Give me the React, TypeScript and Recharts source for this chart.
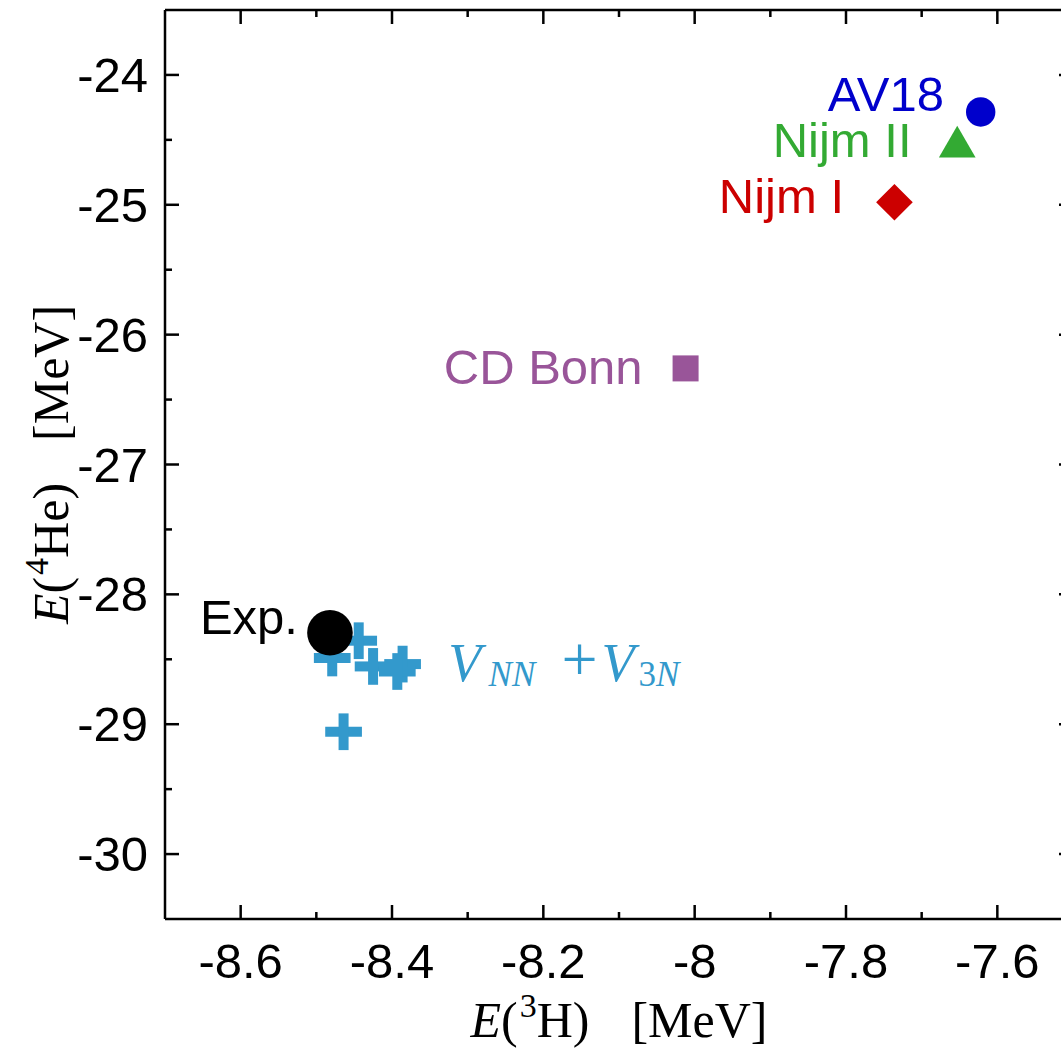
import React from 'react';
import { ScatterChart, Scatter, XAxis, YAxis, ReferenceLine } from 'recharts';

// ---- data ----
const modelNames = ['AV18', 'Nijm II', 'Nijm I', 'CD Bonn'];
const modelTriton = [-7.622, -7.653, -7.736, -8.012];
const modelAlpha = [-24.285, -24.555, -24.98, -26.26];
const expTriton = [-8.482];
const expAlpha = [-28.296];
const threeNTriton = [-8.444, -8.479, -8.425, -8.386, -8.393, -8.464];
const threeNAlpha = [-28.357, -28.49, -28.555, -28.537, -28.594, -29.058];
const xTicks = [-8.6, -8.5, -8.4, -8.3, -8.2, -8.1, -8, -7.9, -7.8, -7.7, -7.6];
const yTicks = [-30, -29.5, -29, -28.5, -28, -27.5, -27, -26.5, -26, -25.5, -25, -24.5, -24];
const xDomain = [-8.7, -7.5];
const yDomain = [-30.5, -23.5];

// ---- layout ----
const CHART_W = 1100;
const CHART_H = 1049;
const MARGIN = { top: 10, right: 27, bottom: 0, left: 0 };
const YAXIS_W = 165;
const XAXIS_H = 130;
const PLOT_W = CHART_W - MARGIN.right - MARGIN.left - YAXIS_W;
const PLOT_H = CHART_H - MARGIN.top - MARGIN.bottom - XAXIS_H;

const SANS = 'Liberation Sans, Arial, Helvetica, sans-serif';
const SERIF = 'Liberation Serif, Times New Roman, serif';
const LW = 2.5;

const colors: Record<string, string> = {
  AV18: '#0000CC',
  'Nijm II': '#33AA33',
  'Nijm I': '#CC0000',
  'CD Bonn': '#995599',
};
const CROSS_COLOR = '#3399CC';

const labelOffsets: Record<string, [number, number]> = {
  AV18: [-36.7, -1.3],
  'Nijm II': [-45.7, 9.7],
  'Nijm I': [-50.4, 10.7],
  'CD Bonn': [-43, 15.5],
};

const modelData = modelNames.map((n, i) => ({ x: modelTriton[i], y: modelAlpha[i], name: n }));
const expData = expTriton.map((x, i) => ({ x, y: expAlpha[i] }));
const threeNData = threeNTriton.map((x, i) => ({ x, y: threeNAlpha[i] }));

const XTick = (props: any) => {
  const { x, y, payload } = props;
  const v = payload.value;
  const major = Math.abs(Math.round(v * 10)) % 2 === 0;
  const len = major ? 14 : 7;
  return (
    <g>
      <line x1={x} x2={x} y1={y} y2={y - len} stroke="#000" strokeWidth={LW} />
      <line x1={x} x2={x} y1={y - PLOT_H} y2={y - PLOT_H + len} stroke="#000" strokeWidth={LW} />
      {major && (
        <text x={x} y={y + 59} textAnchor="middle" fontFamily={SANS} fontSize={49} fill="#000">
          {String(v)}
        </text>
      )}
    </g>
  );
};

const YTick = (props: any) => {
  const { x, y, payload } = props;
  const v = payload.value;
  const major = Number.isInteger(v);
  const len = major ? 14 : 7;
  return (
    <g>
      <line x1={x} x2={x + len} y1={y} y2={y} stroke="#000" strokeWidth={LW} />
      <line x1={x + PLOT_W} x2={x + PLOT_W - len} y1={y} y2={y} stroke="#000" strokeWidth={LW} />
      {major && (
        <text x={x - 17} y={y + 17} textAnchor="end" fontFamily={SANS} fontSize={49} fill="#000">
          {String(v)}
        </text>
      )}
    </g>
  );
};

const XTitle = (props: any) => {
  const vb = props.viewBox || { x: YAXIS_W, y: MARGIN.top + PLOT_H, width: PLOT_W, height: XAXIS_H };
  const cx = vb.x + vb.width / 2;
  const base = vb.y + 118;
  return (
    <text x={cx} y={base} textAnchor="middle" fontFamily={SERIF} fontSize={50} fill="#000">
      <tspan fontStyle="italic">E</tspan>
      <tspan>(</tspan>
      <tspan fontSize={34} dy={-20} dx={2}>3</tspan>
      <tspan dy={20}>H)</tspan>
      <tspan dx={42}>[MeV]</tspan>
    </text>
  );
};

const YTitle = (props: any) => {
  const vb = props.viewBox || { x: 0, y: MARGIN.top, width: YAXIS_W, height: PLOT_H };
  const cy = vb.y + vb.height / 2;
  const bx = 68;
  return (
    <text
      x={bx}
      y={cy}
      transform={`rotate(-90, ${bx}, ${cy})`}
      textAnchor="middle"
      fontFamily={SERIF}
      fontSize={50}
      fill="#000"
    >
      <tspan fontStyle="italic">E</tspan>
      <tspan>(</tspan>
      <tspan fontSize={34} dy={-20} dx={2}>4</tspan>
      <tspan dy={20}>He)</tspan>
      <tspan dx={42}>[MeV]</tspan>
    </text>
  );
};

const ModelShape = (props: any) => {
  const { cx, cy, payload } = props;
  const name = payload.name as string;
  const c = colors[name];
  const [dx, dy] = labelOffsets[name];
  let mark: React.ReactNode = null;
  if (name === 'AV18') {
    mark = <circle cx={cx} cy={cy} r={14.7} fill={c} />;
  } else if (name === 'Nijm II') {
    const h = 10.6;
    mark = (
      <polygon
        points={`${cx},${cy - 2 * h} ${cx - Math.sqrt(3) * h},${cy + h} ${cx + Math.sqrt(3) * h},${cy + h}`}
        fill={c}
      />
    );
  } else if (name === 'Nijm I') {
    const d = 18.3;
    mark = <polygon points={`${cx},${cy - d} ${cx + d},${cy} ${cx},${cy + d} ${cx - d},${cy}`} fill={c} />;
  } else {
    mark = <rect x={cx - 13} y={cy - 13} width={26} height={26} fill={c} />;
  }
  return (
    <g>
      {mark}
      <text x={cx + dx} y={cy + dy} textAnchor="end" fontFamily={SANS} fontSize={49} fill={c}>
        {name}
      </text>
    </g>
  );
};

const ExpShape = (props: any) => {
  const { cx, cy } = props;
  return (
    <g>
      <circle cx={cx} cy={cy} r={22.8} fill="#000" />
      <text x={cx - 32} y={cy + 1.7} textAnchor="end" fontFamily={SANS} fontSize={49} fill="#000">
        Exp.
      </text>
    </g>
  );
};

const CrossShape = (props: any) => {
  const { cx, cy, payload } = props;
  const L = 36.7;
  const T = 10;
  const withLabel = payload.x === threeNTriton[3] && payload.y === threeNAlpha[3];
  return (
    <g>
      <rect x={cx - L / 2} y={cy - T / 2} width={L} height={T} fill={CROSS_COLOR} />
      <rect x={cx - T / 2} y={cy - L / 2} width={T} height={L} fill={CROSS_COLOR} />
      {withLabel && (
        <text y={cy + 17.4} fill={CROSS_COLOR} fontFamily={SERIF} fontSize={54}>
          <tspan x={cx + 45.7} fontStyle="italic">V</tspan>
          <tspan x={cx + 86} dy={5} fontSize={35} fontStyle="italic">NN</tspan>
          <tspan x={cx + 159} dy={-5} fontSize={64}>+</tspan>
          <tspan x={cx + 199} fontStyle="italic">V</tspan>
          <tspan x={cx + 236} dy={5} fontSize={35}>3</tspan>
          <tspan fontSize={35} fontStyle="italic">N</tspan>
        </text>
      )}
    </g>
  );
};

export default function App() {
  return (
    <div
      style={{
        position: 'absolute',
        left: 0,
        top: 0,
        width: 1061,
        height: 1049,
        overflow: 'hidden',
        background: '#fff',
      }}
    >
      <ScatterChart width={CHART_W} height={CHART_H} margin={MARGIN}>
        <XAxis
          type="number"
          dataKey="x"
          domain={xDomain}
          ticks={xTicks}
          interval={0}
          tickSize={0}
          tickMargin={0}
          tickLine={false}
          tick={<XTick />}
          height={XAXIS_H}
          axisLine={{ stroke: '#000', strokeWidth: LW }}
          allowDataOverflow
          label={<XTitle />}
        />
        <YAxis
          type="number"
          dataKey="y"
          domain={yDomain}
          ticks={yTicks}
          interval={0}
          tickSize={0}
          tickMargin={0}
          tickLine={false}
          tick={<YTick />}
          width={YAXIS_W}
          axisLine={{ stroke: '#000', strokeWidth: LW }}
          allowDataOverflow
          label={<YTitle />}
        />
        <ReferenceLine y={yDomain[1]} stroke="#000" strokeWidth={LW} />
        <ReferenceLine x={xDomain[1]} stroke="#000" strokeWidth={LW} />
        <Scatter data={threeNData} shape={<CrossShape />} isAnimationActive={false} />
        <Scatter data={expData} shape={<ExpShape />} isAnimationActive={false} />
        <Scatter data={modelData} shape={<ModelShape />} isAnimationActive={false} />
      </ScatterChart>
    </div>
  );
}
